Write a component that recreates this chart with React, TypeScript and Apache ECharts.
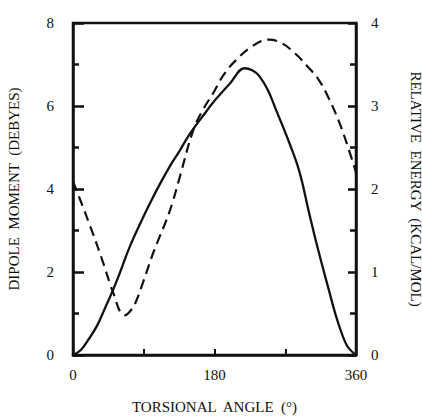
import React, { useEffect, useRef } from "react";
import * as echarts from "echarts";

const dipoleAngles = [0, 10, 20, 31, 40, 51, 60, 72, 90, 98, 110, 123, 135, 149, 170, 178, 200, 218, 228, 237, 248, 258, 275, 288, 300, 313, 325, 336, 348, 356, 360];
const dipoleValues = [0, 0.12, 0.38, 0.72, 1.1, 1.57, 2.0, 2.6, 3.35, 3.66, 4.1, 4.54, 4.9, 5.34, 5.88, 6.08, 6.55, 6.91, 6.86, 6.72, 6.38, 5.92, 5.12, 4.42, 3.45, 2.45, 1.6, 0.85, 0.24, 0.06, 0];

const energyAngles = [0, 12, 25, 37, 47, 53, 58, 62, 66, 72, 79, 90, 102, 110, 119, 127, 136, 153, 165, 178, 192, 207, 228, 249, 265, 283, 298, 313, 325, 338, 350, 360];
const energyValues = [2.09, 1.8, 1.47, 1.15, 0.86, 0.7, 0.56, 0.5, 0.48, 0.52, 0.62, 0.9, 1.23, 1.42, 1.63, 1.85, 2.15, 2.71, 2.95, 3.15, 3.38, 3.55, 3.72, 3.8, 3.76, 3.63, 3.48, 3.31, 3.1, 2.82, 2.5, 2.2];

const xTickLabels = ["0", "180", "360"];

const FONT = "'Liberation Serif', 'Times New Roman', serif";
const INK = "#111";

export default function App() {
  const ref = useRef<HTMLDivElement>(null);
  useEffect(() => {
    document.body.style.margin = "0";
    const chart = echarts.init(ref.current!, null, { renderer: "svg" });
    chart.setOption({
      animation: false,
      backgroundColor: "#fff",
      textStyle: { fontFamily: FONT },
      grid: {
        left: 73,
        right: 66,
        top: 23,
        bottom: 62,
        containLabel: false,
        outerBoundsMode: "none",
        show: true,
        borderColor: INK,
        borderWidth: 2.5,
        backgroundColor: "transparent",
      },
      xAxis: {
        type: "value",
        min: 0,
        max: 360,
        interval: 90,
        name: "TORSIONAL  ANGLE  (°)",
        nameLocation: "middle",
        nameGap: 44,
        nameTextStyle: { fontFamily: FONT, fontSize: 15, color: INK },
        axisLine: { show: true, lineStyle: { color: INK, width: 2.5 } },
        axisTick: { show: true, inside: true, length: 6, lineStyle: { color: INK, width: 2 } },
        axisLabel: {
          margin: 12,
          fontFamily: FONT,
          fontSize: 15,
          color: INK,
          formatter: (v: number) => (xTickLabels.includes(String(v)) ? String(v) : ""),
        },
        splitLine: { show: false },
      },
      yAxis: [
        {
          type: "value",
          min: 0,
          max: 8,
          interval: 2,
          position: "left",
          name: "DIPOLE  MOMENT  (DEBYES)",
          nameLocation: "middle",
          nameRotate: 90,
          nameGap: 52,
          nameTextStyle: { fontFamily: FONT, fontSize: 15, color: INK },
          axisLine: { show: true, lineStyle: { color: INK, width: 2.5 } },
          axisTick: { show: true, inside: true, length: 11, lineStyle: { color: INK, width: 2.5 } },
          minorTick: { show: true, splitNumber: 2, length: 6, lineStyle: { color: INK, width: 2.5 } },
          axisLabel: { margin: 19, fontFamily: FONT, fontSize: 15, color: INK },
          splitLine: { show: false },
          minorSplitLine: { show: false },
        },
        {
          type: "value",
          min: 0,
          max: 4,
          interval: 1,
          position: "right",
          name: "RELATIVE  ENERGY  (KCAL/MOL)",
          nameLocation: "middle",
          nameRotate: -90,
          nameGap: 52,
          nameTextStyle: { fontFamily: FONT, fontSize: 15, color: INK },
          axisLine: { show: true, lineStyle: { color: INK, width: 2.5 } },
          axisTick: { show: true, inside: true, length: 8, lineStyle: { color: INK, width: 2.5 } },
          minorTick: { show: true, splitNumber: 2, length: 6, lineStyle: { color: INK, width: 2.5 } },
          axisLabel: { margin: 15, fontFamily: FONT, fontSize: 15, color: INK },
          splitLine: { show: false },
          minorSplitLine: { show: false },
        },
      ],
      series: [
        {
          type: "line",
          name: "Dipole moment",
          yAxisIndex: 0,
          data: dipoleAngles.map((a, i) => [a, dipoleValues[i]]),
          smooth: 0.4,
          showSymbol: false,
          lineStyle: { color: INK, width: 2.3 },
          z: 3,
        },
        {
          type: "line",
          name: "Relative energy",
          yAxisIndex: 1,
          data: energyAngles.map((a, i) => [a, energyValues[i]]),
          smooth: 0.4,
          showSymbol: false,
          lineStyle: { color: INK, width: 2.2, type: [10, 6] },
          z: 3,
        },
      ],
    });
    return () => chart.dispose();
  }, []);
  return <div ref={ref} style={{ width: 422, height: 417 }} />;
}
